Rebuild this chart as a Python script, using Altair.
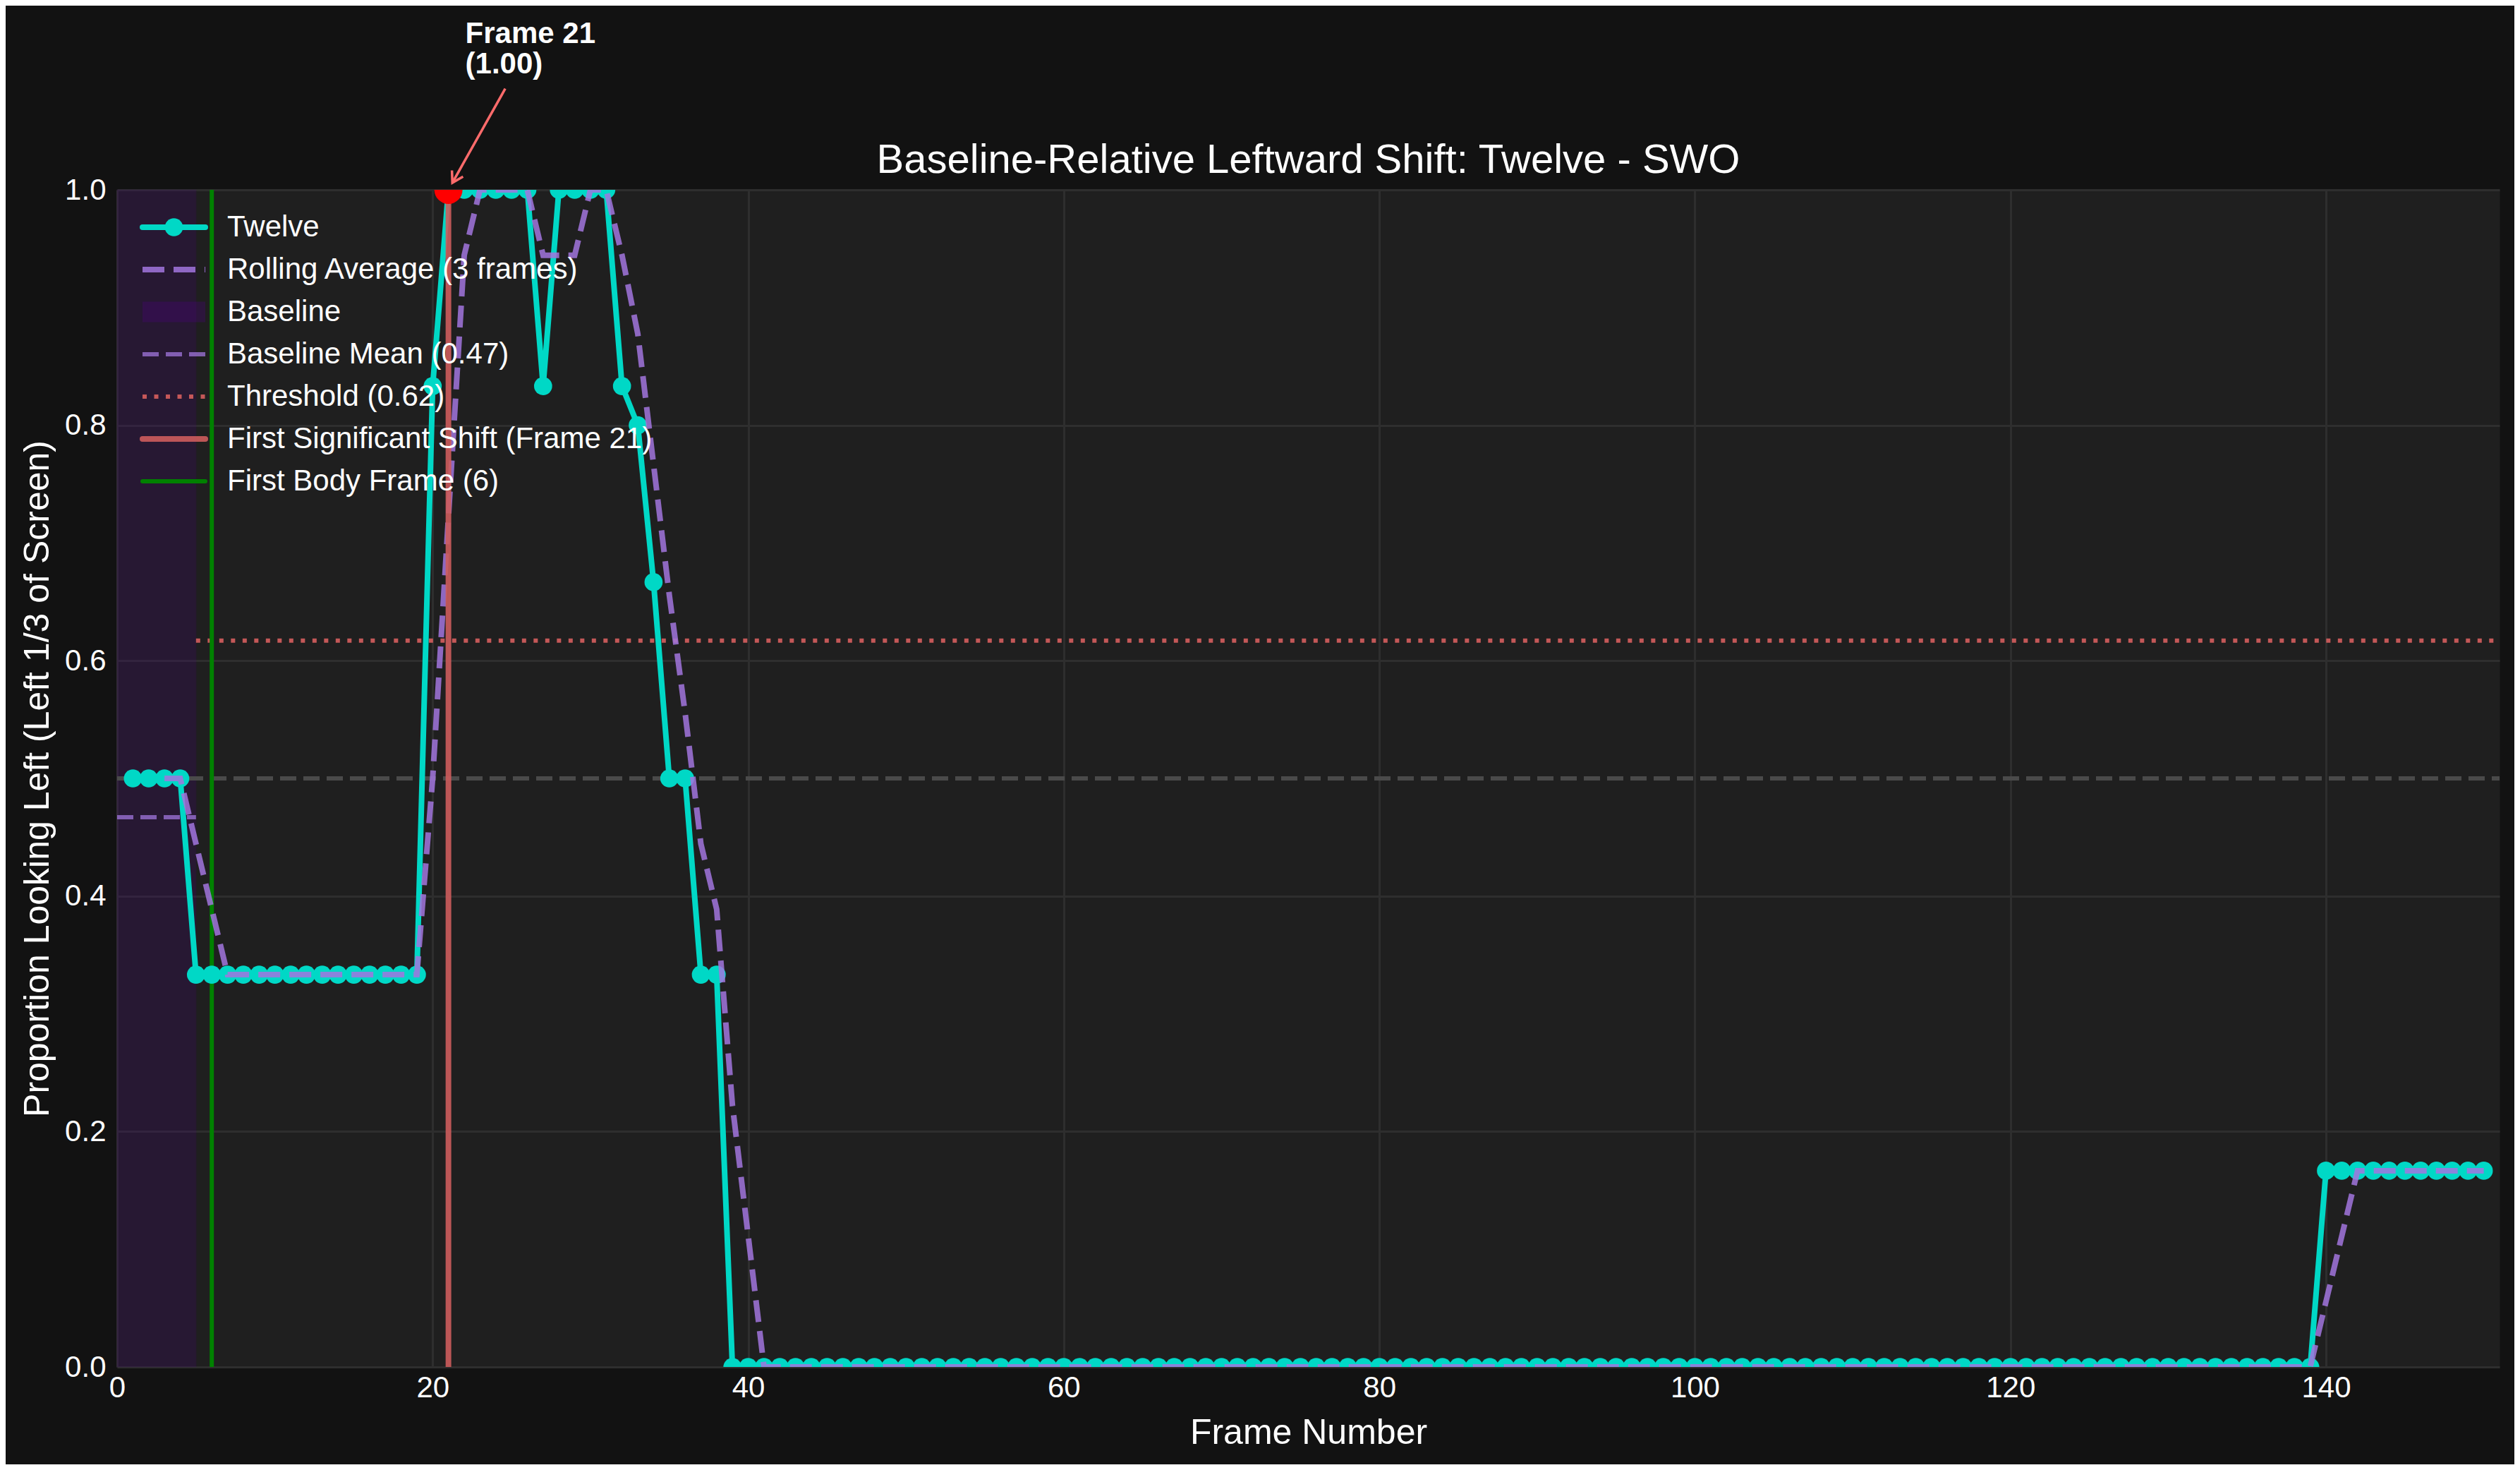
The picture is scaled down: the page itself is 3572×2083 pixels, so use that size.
import altair as alt
import pandas as pd

# ---------------- data ----------------
frames = list(range(1, 151))
proportion = (
    [0.5] * 4
    + [0.3333] * 15
    + [0.8333]
    + [1.0] * 6
    + [0.8333]
    + [1.0] * 4
    + [0.8333, 0.8, 0.6667, 0.5, 0.5, 0.3333, 0.3333]
    + [0.0] * 101
    + [0.1667] * 11
)

x_ticks = [0, 20, 40, 60, 80, 100, 120, 140]
y_ticks = [0.0, 0.2, 0.4, 0.6, 0.8, 1.0]
x_domain = [0, 151]
y_domain = [0, 1]

baseline_start = 0
baseline_end = 5
baseline_mean = 0.467
threshold = 0.617
reference_level = 0.5
first_shift_frame = 21
first_shift_value = 1.0
first_body_frame = 6

annot_text = "Frame 21\n(1.00)"
annot_text_pos = [22.07, 1.125]
annot_arrow_from = [24.6, 1.086]
annot_arrow_to = [21.25, 1.006]

legend_labels = [
    "Twelve",
    "Rolling Average (3 frames)",
    "Baseline",
    "Baseline Mean (0.47)",
    "Threshold (0.62)",
    "First Significant Shift (Frame 21)",
    "First Body Frame (6)",
]

title_text = "Baseline-Relative Leftward Shift: Twelve - SWO"
x_title = "Frame Number"
y_title = "Proportion Looking Left (Left 1/3 of Screen)"

# ---------------- style ----------------
FONT = "Liberation Sans"
TEAL = "#00d8c6"
PURPLE = "#a275de"
SPAN = "#4b0082"
RED = "#cd5c5c"
GREEN = "#008000"
ARROW = "#ff6b6b"
W, H = 3377, 1668

xscale = alt.Scale(domain=x_domain, nice=False, zero=False)
yscale = alt.Scale(domain=y_domain, nice=False, zero=False)

xaxis = alt.Axis(
    values=x_ticks, grid=True, gridColor="#2e2e2e", gridWidth=3, ticks=False,
    domain=False, labelFontSize=42, labelColor="white", labelFont=FONT,
    labelPadding=9, labelFlush=False, titleFontSize=50, titleColor="white",
    titleFont=FONT, titleFontWeight="normal", titleBaseline="alphabetic",
    titleY=108, titleX=W / 2, titleAlign="center",
)
yaxis = alt.Axis(
    values=y_ticks, format=".1f", grid=True, gridColor="#2e2e2e", gridWidth=3,
    ticks=False, domain=False, labelFontSize=42, labelColor="white",
    labelFont=FONT, labelPadding=16, labelFlush=False, titleFontSize=50,
    titleColor="white", titleFont=FONT, titleFontWeight="normal",
    titleAngle=270, titleX=-113, titleY=H / 2, titleAlign="center",
    titleBaseline="middle",
)


def X(f):
    return alt.X(f"{f}:Q", scale=xscale, axis=xaxis, title=x_title)


def Y(f):
    return alt.Y(f"{f}:Q", scale=yscale, axis=yaxis, title=y_title)


df = pd.DataFrame({"frame": frames, "value": proportion})

span = alt.Chart(pd.DataFrame({"x0": [baseline_start], "x1": [baseline_end],
                               "y0": [y_domain[0]], "y1": [y_domain[1]]})).mark_rect(
    color=SPAN, opacity=0.2, stroke=SPAN, strokeOpacity=0.4, strokeWidth=2
).encode(x=X("x0"), x2=alt.X2("x1"), y=Y("y0"), y2=alt.Y2("y1"))

ref_line = alt.Chart(pd.DataFrame({"x0": [x_domain[0]], "x1": [x_domain[1]],
                                   "y": [reference_level]})).mark_rule(
    color="#4a4a4a", strokeWidth=6, strokeDash=[23, 10]
).encode(x=X("x0"), x2=alt.X2("x1"), y=Y("y"))

base_mean = alt.Chart(pd.DataFrame({"x0": [baseline_start], "x1": [baseline_end],
                                    "y": [baseline_mean]})).mark_rule(
    color=PURPLE, opacity=0.75, strokeWidth=6, strokeDash=[23, 10]
).encode(x=X("x0"), x2=alt.X2("x1"), y=Y("y"))

thresh = alt.Chart(pd.DataFrame({"x0": [baseline_end], "x1": [x_domain[1]],
                                 "y": [threshold]})).mark_rule(
    color=RED, opacity=0.95, strokeWidth=6, strokeDash=[6, 10.5]
).encode(x=X("x0"), x2=alt.X2("x1"), y=Y("y"))

body = alt.Chart(pd.DataFrame({"x": [first_body_frame], "y0": [y_domain[0]],
                               "y1": [y_domain[1]]})).mark_rule(
    color=GREEN, strokeWidth=6
).encode(x=X("x"), y=Y("y0"), y2=alt.Y2("y1"))

line = alt.Chart(df).mark_line(color=TEAL, strokeWidth=8, clip=True).encode(
    x=X("frame"), y=Y("value"))
pts = alt.Chart(df).mark_circle(color=TEAL, size=660, opacity=1, clip=True).encode(
    x=X("frame"), y=Y("value"))

rolling = alt.Chart(df).transform_window(
    roll="mean(value)", frame=[-2, 0], sort=[{"field": "frame"}]
).transform_filter("datum.frame >= 3").mark_line(
    color=PURPLE, opacity=0.85, strokeWidth=8, strokeDash=[31, 13], clip=True
).encode(x=X("frame"), y=Y("roll"))

shift = alt.Chart(pd.DataFrame({"x": [first_shift_frame], "y0": [y_domain[0]],
                                "y1": [y_domain[1]]})).mark_rule(
    color=RED, opacity=0.9, strokeWidth=8
).encode(x=X("x"), y=Y("y0"), y2=alt.Y2("y1"))

shift_pt = alt.Chart(pd.DataFrame({"x": [first_shift_frame], "y": [first_shift_value]})).mark_circle(
    color="#ff0000", size=1590, opacity=1, clip=True
).encode(x=X("x"), y=Y("y"))

arrow = alt.Chart(pd.DataFrame({"x0": [annot_arrow_from[0]], "y0": [annot_arrow_from[1]],
                                "x1": [annot_arrow_to[0]], "y1": [annot_arrow_to[1]]})).mark_rule(
    color=ARROW, strokeWidth=3.5
).encode(x=X("x0"), y=Y("y0"), x2=alt.X2("x1"), y2=alt.Y2("y1"))

arrow_head = alt.Chart(pd.DataFrame({"x": [annot_arrow_to[0]], "y": [annot_arrow_to[1]]})).mark_point(
    shape="M-0.6,1L0,0L0.6,1", filled=False, stroke=ARROW, strokeWidth=3.5,
    size=900, angle=208.9, opacity=1
).encode(x=X("x"), y=Y("y"))

annot = alt.Chart(pd.DataFrame({"x": [annot_text_pos[0]], "y": [annot_text_pos[1]],
                                "t": [annot_text]})).mark_text(
    align="left", baseline="alphabetic", fontSize=42, fontWeight="bold",
    color="white", font=FONT, lineBreak="\n", lineHeight=43
).encode(x=X("x"), y=Y("y"), text="t:N")

one = pd.DataFrame({"a": [0]})

# title drawn as a text mark centred over the plot
title = alt.Chart(one).mark_text(
    text=title_text, align="center", baseline="alphabetic", fontSize=58,
    color="white", font=FONT
).encode(x=alt.value(W / 2), y=alt.value(-24))

# ---------------- legend (drawn manually, no frame) ----------------
LX0, LX1, LXM, LTX = 36, 125, 80.5, 156
LY0, LDY = 53, 60
ly = [LY0 + LDY * i for i in range(len(legend_labels))]


def seg(i, **kw):
    return alt.Chart(one).mark_rule(**kw).encode(
        x=alt.value(LX0), x2=alt.value(LX1), y=alt.value(ly[i]))


legend_layers = [
    seg(0, color=TEAL, strokeWidth=8, strokeCap="round"),
    alt.Chart(one).mark_circle(color=TEAL, size=660, opacity=1).encode(
        x=alt.value(LXM), y=alt.value(ly[0])),
    seg(1, color=PURPLE, opacity=0.85, strokeWidth=8, strokeDash=[31, 13]),
    alt.Chart(one).mark_rect(color=SPAN, opacity=0.3).encode(
        x=alt.value(LX0), x2=alt.value(LX1), y=alt.value(ly[2] - 14.5),
        y2=alt.value(ly[2] + 14.5)),
    seg(3, color=PURPLE, opacity=0.75, strokeWidth=6, strokeDash=[23, 10]),
    seg(4, color=RED, opacity=0.95, strokeWidth=6, strokeDash=[6, 10.5]),
    seg(5, color=RED, opacity=0.9, strokeWidth=8, strokeCap="round"),
    seg(6, color=GREEN, strokeWidth=6, strokeCap="round"),
]
for i, lab in enumerate(legend_labels):
    legend_layers.append(
        alt.Chart(one).mark_text(
            text=lab, align="left", baseline="middle", fontSize=42,
            color="white", font=FONT
        ).encode(x=alt.value(LTX), y=alt.value(ly[i]))
    )

chart = alt.layer(
    span, ref_line, base_mean, thresh, body, line, pts, rolling, shift,
    shift_pt, arrow, arrow_head, annot, title, *legend_layers
).properties(
    width=W, height=H,
    autosize=alt.AutoSizeParams(type="none"),
    padding={"left": 158, "top": 261, "right": 21, "bottom": 138},
    background="#121212",
).configure_view(fill="#1f1f1f", stroke="transparent")

chart.save("out.html", embed_options={"renderer": "svg", "actions": False})
